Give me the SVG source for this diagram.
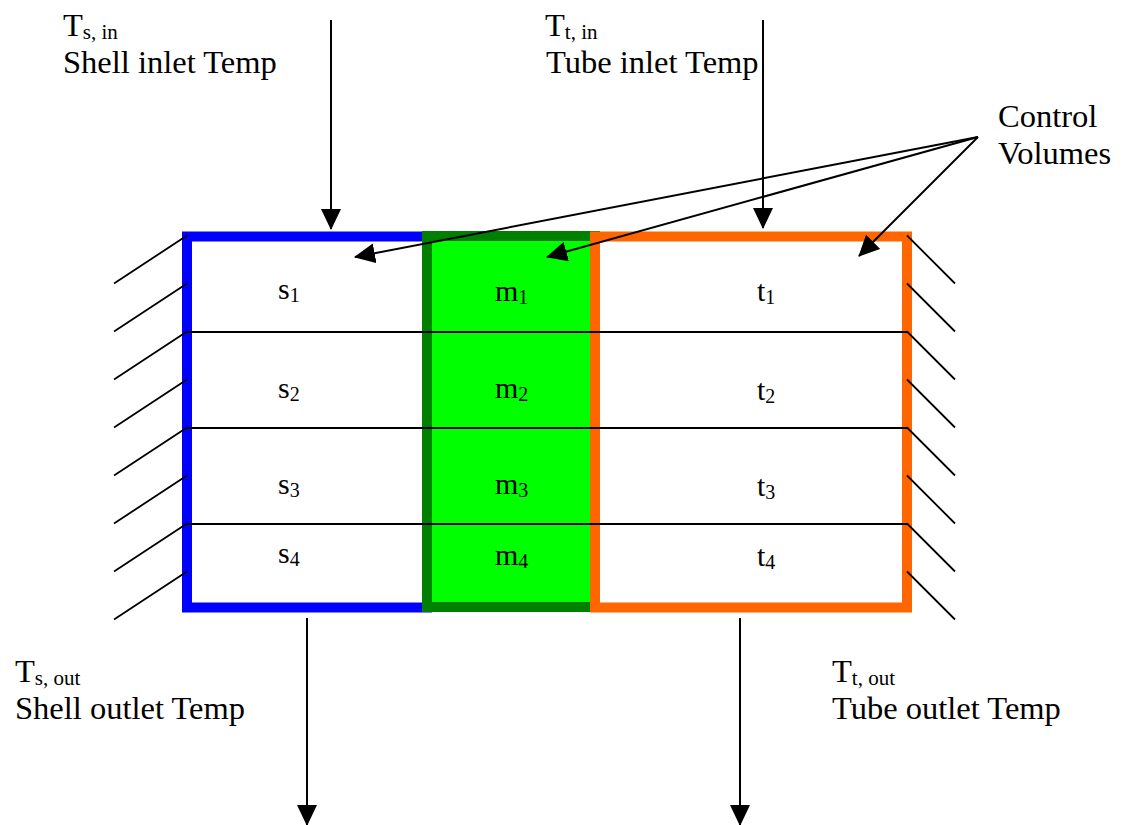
<svg xmlns="http://www.w3.org/2000/svg" width="1127" height="825" viewBox="0 0 1127 825">
<style>
text{font-family:"Liberation Serif","Times New Roman",serif;fill:#000}
.lbl{font-size:32.5px}
.cell{font-size:30px}
.sub{font-size:21px}
.csub{font-size:20px}
.ln{stroke:#000;stroke-width:2;fill:none}
.hatch{stroke:#000;stroke-width:1.8;fill:none}
.arr{stroke:#000;stroke-width:2;fill:none;marker-end:url(#ah)}
</style>
<defs>
<marker id="ah" markerWidth="22" markerHeight="22" refX="20" refY="10" orient="auto" markerUnits="userSpaceOnUse">
<path d="M0,0 L21,10 L0,20 z" fill="#000"/>
</marker>
</defs>
<rect width="1127" height="825" fill="#fff"/>

<g id="shell-box">
<rect x="187" y="236.5" width="240" height="371" fill="#fff" stroke="#0000ff" stroke-width="10"/>
</g>
<g id="metal-box">
<rect x="427" y="236" width="168" height="371" fill="#00ff00" stroke="#007f00" stroke-width="10"/>
</g>
<g id="tube-box">
<rect x="595" y="236.5" width="312" height="371" fill="#fff" stroke="#ff6600" stroke-width="10"/>
</g>

<g id="dividers">
<line class="ln" x1="187" y1="332" x2="907" y2="332"/>
<line class="ln" x1="187" y1="428" x2="907" y2="428"/>
<line class="ln" x1="187" y1="524" x2="907" y2="524"/>
</g>

<g id="wall-left">
<path class="hatch" d="M187,235.5 L114,283.5 M187,283.5 L114,331.5 M187,331.5 L114,379.5 M187,379.5 L114,427.5 M187,427.5 L114,475.5 M187,475.5 L114,523.5 M187,523.5 L114,571.5 M187,571.5 L114,619.5"/>
</g>
<g id="wall-right">
<path class="hatch" d="M907,235.5 L955,283.5 M907,283.5 L955,331.5 M907,331.5 L955,379.5 M907,379.5 L955,427.5 M907,427.5 L955,475.5 M907,475.5 L955,523.5 M907,523.5 L955,571.5 M907,571.5 L955,619.5"/>
</g>

<g id="connectors">
<line class="arr" x1="331" y1="20" x2="331" y2="229"/>
<line class="arr" x1="763" y1="20" x2="763" y2="228"/>
<line class="arr" x1="307" y1="618" x2="307" y2="825"/>
<line class="arr" x1="740" y1="618" x2="740" y2="825"/>
<line class="arr" x1="978" y1="137" x2="355" y2="257"/>
<line class="arr" x1="978" y1="137" x2="547" y2="257"/>
<line class="arr" x1="978" y1="137" x2="859" y2="256"/>
</g>

<g id="label-shell-in">
<text class="lbl" x="63" y="36">T<tspan class="sub" dy="3">s, in</tspan></text>
<text class="lbl" x="63" y="73">Shell inlet Temp</text>
</g>
<g id="label-tube-in">
<text class="lbl" x="545" y="36">T<tspan class="sub" dy="3">t, in</tspan></text>
<text class="lbl" x="546" y="73">Tube inlet Temp</text>
</g>
<g id="label-control">
<text class="lbl" x="998" y="127">Control</text>
<text class="lbl" x="998" y="164">Volumes</text>
</g>
<g id="label-shell-out">
<text class="lbl" x="15" y="682">T<tspan class="sub" dy="3">s, out</tspan></text>
<text class="lbl" x="15" y="719">Shell outlet Temp</text>
</g>
<g id="label-tube-out">
<text class="lbl" x="832" y="682">T<tspan class="sub" dy="3">t, out</tspan></text>
<text class="lbl" x="832" y="719">Tube outlet Temp</text>
</g>

<g id="cells-s">
<text class="cell" x="278" y="299">s<tspan class="csub" dy="3">1</tspan></text>
<text class="cell" x="278" y="398">s<tspan class="csub" dy="3">2</tspan></text>
<text class="cell" x="278" y="494">s<tspan class="csub" dy="3">3</tspan></text>
<text class="cell" x="278" y="563">s<tspan class="csub" dy="3">4</tspan></text>
</g>
<g id="cells-m">
<text class="cell" x="495" y="301">m<tspan class="csub" dy="3">1</tspan></text>
<text class="cell" x="495" y="398">m<tspan class="csub" dy="3">2</tspan></text>
<text class="cell" x="495" y="494">m<tspan class="csub" dy="3">3</tspan></text>
<text class="cell" x="495" y="565">m<tspan class="csub" dy="3">4</tspan></text>
</g>
<g id="cells-t">
<text class="cell" x="757" y="301">t<tspan class="csub" dy="3">1</tspan></text>
<text class="cell" x="757" y="400">t<tspan class="csub" dy="3">2</tspan></text>
<text class="cell" x="757" y="496">t<tspan class="csub" dy="3">3</tspan></text>
<text class="cell" x="757" y="566">t<tspan class="csub" dy="3">4</tspan></text>
</g>
</svg>
